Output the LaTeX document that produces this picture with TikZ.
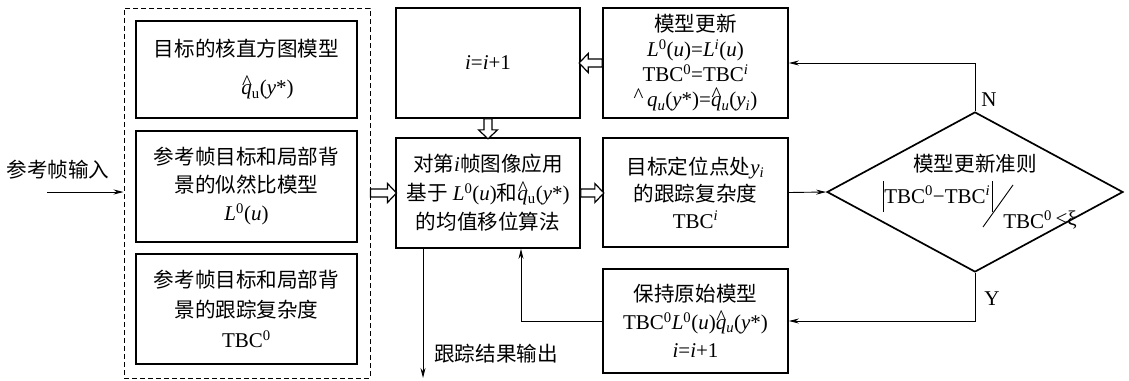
\documentclass[tikz,border=0pt]{standalone}
\usepackage{fontspec}
\setmainfont{Liberation Serif}
\newfontfamily\cjk[Scale=0.98]{Noto Sans CJK SC}
\usetikzlibrary{arrows.meta,shapes.geometric}
\newcommand\zh[1]{{\cjk #1}}
\newcommand\qhat{\leavevmode\rlap{\raisebox{5pt}{\hspace{0.6pt}\textasciicircum}}\textit{q}}
\newcommand\supr[1]{\textsuperscript{#1}}
\newcommand\subr[1]{\textsubscript{#1}}
\newcommand\harrow[3]{\path[hollow, shift={#1}, rotate=#3] (0,-4) -- (#2-9,-4) -- (#2-9,-9.5) -- (#2,0) -- (#2-9,9.5) -- (#2-9,4) -- (0,4) -- cycle;}
\begin{document}
\begin{tikzpicture}[x=1pt,y=-1pt,
 box/.style={draw, line width=1.7pt, inner sep=0pt, align=center, font=\fontsize{21}{28}\selectfont},
 conn/.style={line width=0.9pt, -{Stealth[length=10pt,width=5pt]}},
 hollow/.style={draw, line width=1.2pt, fill=white, line join=miter},
 lbl/.style={font=\fontsize{21}{24}\selectfont, inner sep=0pt}]
\useasboundingbox (0,0) rectangle (1129,380);
% group
\node[draw, dash pattern=on 5pt off 3pt, line width=1pt, minimum width=246pt, minimum height=370pt] (grp) at (247,193) {};
\node[box, minimum width=221pt, minimum height=97pt] (b1) at (246.5,69.5)
 {\zh{目标的核直方图模型}\\[10pt]\hspace*{42pt}\qhat\subr{u}(\textit{y}*)};
\node[box, minimum width=221pt, minimum height=111pt] (b2) at (246.5,186.5)
 {\zh{参考帧目标和局部背}\\\zh{景的似然比模型}\\\textit{L}\supr{0}(\textit{u})};
\node[box, minimum width=221pt, minimum height=110pt, font=\fontsize{21}{30}\selectfont] (b3) at (246.5,309)
 {\zh{参考帧目标和局部背}\\\zh{景的跟踪复杂度}\\TBC\supr{0}};
% middle column
\node[box, minimum width=184pt, minimum height=110pt] (inc) at (488,63)
 {\textit{i}=\textit{i}+1};
\node[box, minimum width=184pt, minimum height=110pt, font=\fontsize{21}{29}\selectfont] (ms) at (488,193)
 {\zh{对第}\textit{i}\zh{帧图像应用}\\\zh{基于} \textit{L}\supr{0}(\textit{u})\zh{和}\qhat\subr{u}(\textit{y}*)\\\zh{的均值移位算法}};
% right column
\node[box, minimum width=185pt, minimum height=110pt, font=\fontsize{21}{25}\selectfont] (upd) at (695.5,63)
 {\zh{模型更新}\\\textit{L}\supr{0}(\textit{u})=\textit{L}\supr{\textit{i}}(\textit{u})\\TBC\supr{0}=TBC\supr{\textit{i}}\\\raisebox{4pt}{\textasciicircum}\,\textit{q}\subr{\textit{u}}(\textit{y}*)=\qhat\subr{\textit{u}}(\textit{y}\subr{\textit{i}})};
\node[box, minimum width=185pt, minimum height=109pt, font=\fontsize{21}{27}\selectfont] (tbc) at (695.5,192.5)
 {\zh{目标定位点处}\textit{y}\subr{\textit{i}}\\\zh{的跟踪复杂度}\\TBC\supr{\textit{i}}};
\node[box, minimum width=185pt, minimum height=104pt] (keep) at (695.5,321)
 {\zh{保持原始模型}\\TBC\supr{0}\textit{L}\supr{0}(\textit{u})\qhat\subr{\textit{u}}(\textit{y}*)\\\textit{i}=\textit{i}+1};
% diamond
\node[draw, diamond, line width=1.7pt, minimum width=296pt, minimum height=160pt, inner sep=0pt] (dia) at (975,192) {};
\node[lbl] (dt) at (975,164) {\zh{模型更新准则}};
\node[lbl] (dnum) at (938,196) {\rule[-8pt]{1pt}{31pt}TBC\supr{0}−TBC\supr{\textit{i}}\hspace{1.5pt}\rule[-8pt]{1pt}{31pt}};
\node[lbl] (dden) at (1040,220) {TBC\supr{0}\,\raisebox{3pt}{<ξ}};
\coordinate (sl1) at (1013,185);
\coordinate (sl2) at (983,227);
\draw[line width=0.9pt] (sl1) -- (sl2);
% labels
\node[lbl] (inl) at (58,170) {\zh{参考帧输入}};
\node[lbl] (outl) at (496,354) {\zh{跟踪结果输出}};
\node[lbl] (nl) at (989,100) {N};
\node[lbl] (yl) at (992,299) {Y};
% connectors
\coordinate (inp) at (47,192);
\draw[conn] (inp) -- (inp -| grp.west);
\draw[conn] (tbc.east) -- (dia.west);
\draw[conn] (dia.north) |- (upd.east);
\draw[conn] (dia.south) |- (keep.east);
\draw[conn] (keep.west) -| ([xshift=33pt]ms.south);
\coordinate (outp) at (423,378);
\draw[conn] (ms.south -| outp) -- (outp);
% hollow arrows
\harrow{(grp.east |- ms.west)}{26}{0}
\harrow{(upd.west)}{23}{180}
\harrow{(inc.south)}{20}{-90}
\harrow{(ms.east)}{23}{0}
\end{tikzpicture}
\end{document}
